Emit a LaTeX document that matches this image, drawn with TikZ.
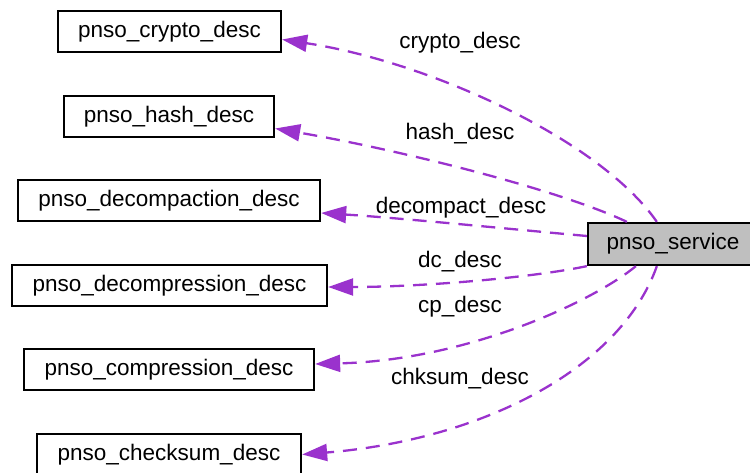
\documentclass[tikz,border=0pt]{standalone}
\usepackage{fontspec}
\setmainfont{Liberation Sans}
\usetikzlibrary{arrows.meta}
\definecolor{edgepurple}{HTML}{9A32CD}
\definecolor{svcgray}{HTML}{BFBFBF}
\begin{document}
\begin{tikzpicture}[x=1pt,y=-1pt,
  every node/.style={font=\fontsize{22.5}{27}\selectfont},
  box/.style={draw=black,line width=2.3pt,minimum height=41pt,inner sep=0pt,anchor=center},
  edge/.style={draw=edgepurple,line width=2.3pt,dash pattern=on 14pt off 9pt,
    -{Triangle[length=25pt,width=17pt]}},
  lbl/.style={inner sep=0pt,anchor=center}]
\useasboundingbox (0,0) rectangle (750,473);

% class boxes
\node[box,minimum width=223pt] (crypto) at (169.5,31.5) {pnso\_crypto\_desc};
\node[box,minimum width=210pt] (hash) at (169,116.5) {pnso\_hash\_desc};
\node[box,minimum width=302pt] (dcmp) at (169,200.5) {pnso\_decompaction\_desc};
\node[box,minimum width=315pt] (dcomp) at (169.5,285.5) {pnso\_decompression\_desc};
\node[box,minimum width=290pt] (comp) at (169,369.5) {pnso\_compression\_desc};
\node[box,minimum width=264pt] (chk) at (169,454.5) {pnso\_checksum\_desc};
\node[box,fill=svcgray,minimum width=170pt,minimum height=42pt] (svc) at (673,244) {pnso\_service};

% member edges
\draw[edge] ([xshift=70pt]svc.north west) .. controls (600,140) and (430,62) .. ([yshift=-8pt]crypto.east);
\draw[edge] ([xshift=40pt]svc.north west) .. controls (560,190) and (400,150) .. ([yshift=-12pt]hash.east);
\draw[edge] ([yshift=8pt]svc.west) .. controls (520,230) and (400,218) .. ([yshift=-12.5pt]dcmp.east);
\draw[edge] (svc.south west) .. controls (530,278) and (420,287) .. ([yshift=-1.5pt]dcomp.east);
\draw[edge] ([xshift=49pt]svc.south west) .. controls (595,300) and (470,360) .. ([yshift=5.5pt]comp.east);
\draw[edge] ([xshift=70pt]svc.south west) .. controls (620,370) and (480,440) .. (chk.east);

% edge labels
\node[lbl] (l1) at (460,43) {crypto\_desc};
\node[lbl] (l2) at (460,134) {hash\_desc};
\node[lbl] (l3) at (461,208) {decompact\_desc};
\node[lbl] (l4) at (460,262) {dc\_desc};
\node[lbl] (l5) at (460,307) {cp\_desc};
\node[lbl] (l6) at (460,379) {chksum\_desc};
\end{tikzpicture}
\end{document}
